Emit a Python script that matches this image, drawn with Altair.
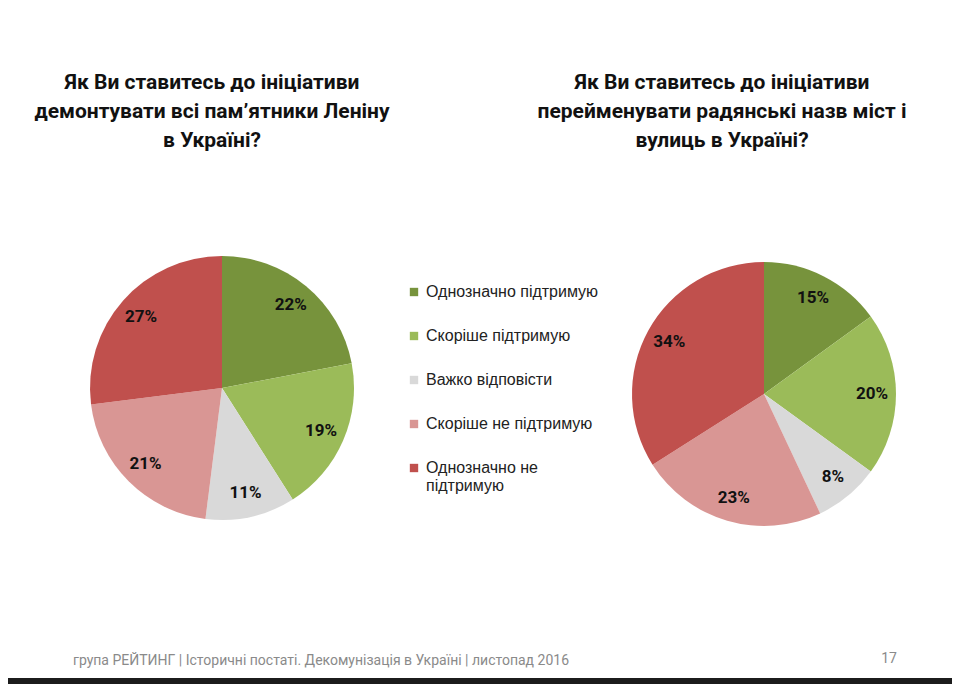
import altair as alt
import pandas as pd

categories = ["Однозначно підтримую", "Скоріше підтримую", "Важко відповісти",
              "Скоріше не підтримую", "Однозначно не підтримую"]
colors = ["#77933C", "#9BBB59", "#D9D9D9", "#D99694", "#C0504D"]
values_lenin = [22, 19, 11, 21, 27]
values_rename = [15, 20, 8, 23, 34]

title_lenin = ["Як Ви ставитесь до ініціативи", "демонтувати всі пам’ятники Леніну", "в Україні?"]
title_rename = ["Як Ви ставитесь до ініціативи", "перейменувати радянські назв міст і", "вулиць в Україні?"]
footer = "група РЕЙТИНГ  |  Історичні постаті. Декомунізація в Україні  |  листопад 2016"
page_no = "17"

rows = []
for q, vals in (("lenin", values_lenin), ("rename", values_rename)):
    for i, (c, v) in enumerate(zip(categories, vals)):
        rows.append({"q": q, "cat": c, "idx": i, "value": v, "label": f"{v}%"})
df = pd.DataFrame(rows)

color_scale = alt.Scale(domain=categories, range=colors)
base = alt.Chart(df)

def pie(q, cx, cy, show_legend):
    src = base.transform_filter(alt.datum.q == q)
    legend = None
    if show_legend:
        legend = alt.Legend(
            orient="none", legendX=398, legendY=276, title=None,
            symbolType="square", symbolSize=70, symbolStrokeWidth=0,
            labelFont="Liberation Sans", labelFontSize=16, labelColor="#222222",
            labelOffset=4, rowPadding=28, padding=0, labelLimit=300,
            labelBaseline="middle",
            labelExpr="datum.label == 'Однозначно не підтримую' ? ['Однозначно не', 'підтримую'] : datum.label",
        )
    arc = src.mark_arc(outerRadius=132).encode(
        theta=alt.Theta("value:Q", stack=True),
        color=alt.Color("cat:N", scale=color_scale, legend=legend,
                        sort=categories),
        order=alt.Order("idx:Q"),
        x=alt.value(cx), y=alt.value(cy),
    )
    txt = src.mark_text(radius=108, font="Roboto", fontWeight="bold",
                        fontSize=17, color="#111111").encode(
        theta=alt.Theta("value:Q", stack=True),
        order=alt.Order("idx:Q"),
        text="label:N",
        x=alt.value(cx), y=alt.value(cy),
    )
    return alt.layer(arc, txt).resolve_scale(theta="independent")

def title_text(lines, cx):
    return alt.Chart(pd.DataFrame({"t": [0]})).mark_text(
        text=lines, font="Roboto", fontWeight="bold", fontSize=21,
        lineHeight=29, align="center", baseline="alphabetic", color="#111111"
    ).encode(x=alt.value(cx), y=alt.value(81))

footer_txt = alt.Chart(pd.DataFrame({"t": [0]})).mark_text(
    text=footer, font="Roboto", fontSize=14, color="#8a8a8a",
    align="left", baseline="alphabetic"
).encode(x=alt.value(65), y=alt.value(657))

page_txt = alt.Chart(pd.DataFrame({"t": [0]})).mark_text(
    text=page_no, font="Roboto", fontSize=14, color="#8a8a8a",
    align="right", baseline="alphabetic"
).encode(x=alt.value(889), y=alt.value(655))

chart = alt.layer(
    pie("lenin", 214, 380, True),
    pie("rename", 756, 386, False),
    title_text(title_lenin, 204),
    title_text(title_rename, 714),
    footer_txt,
    page_txt,
).resolve_scale(theta="independent").properties(
    width=944, height=670,
    autosize=alt.AutoSizeParams(type="none"),
    padding={"left": 0, "top": 0, "right": 0, "bottom": 6},
    background="#1c1c1c",
).configure_view(fill="white", stroke=None)

chart.save("out.html", embed_options={"renderer": "svg", "actions": False})
